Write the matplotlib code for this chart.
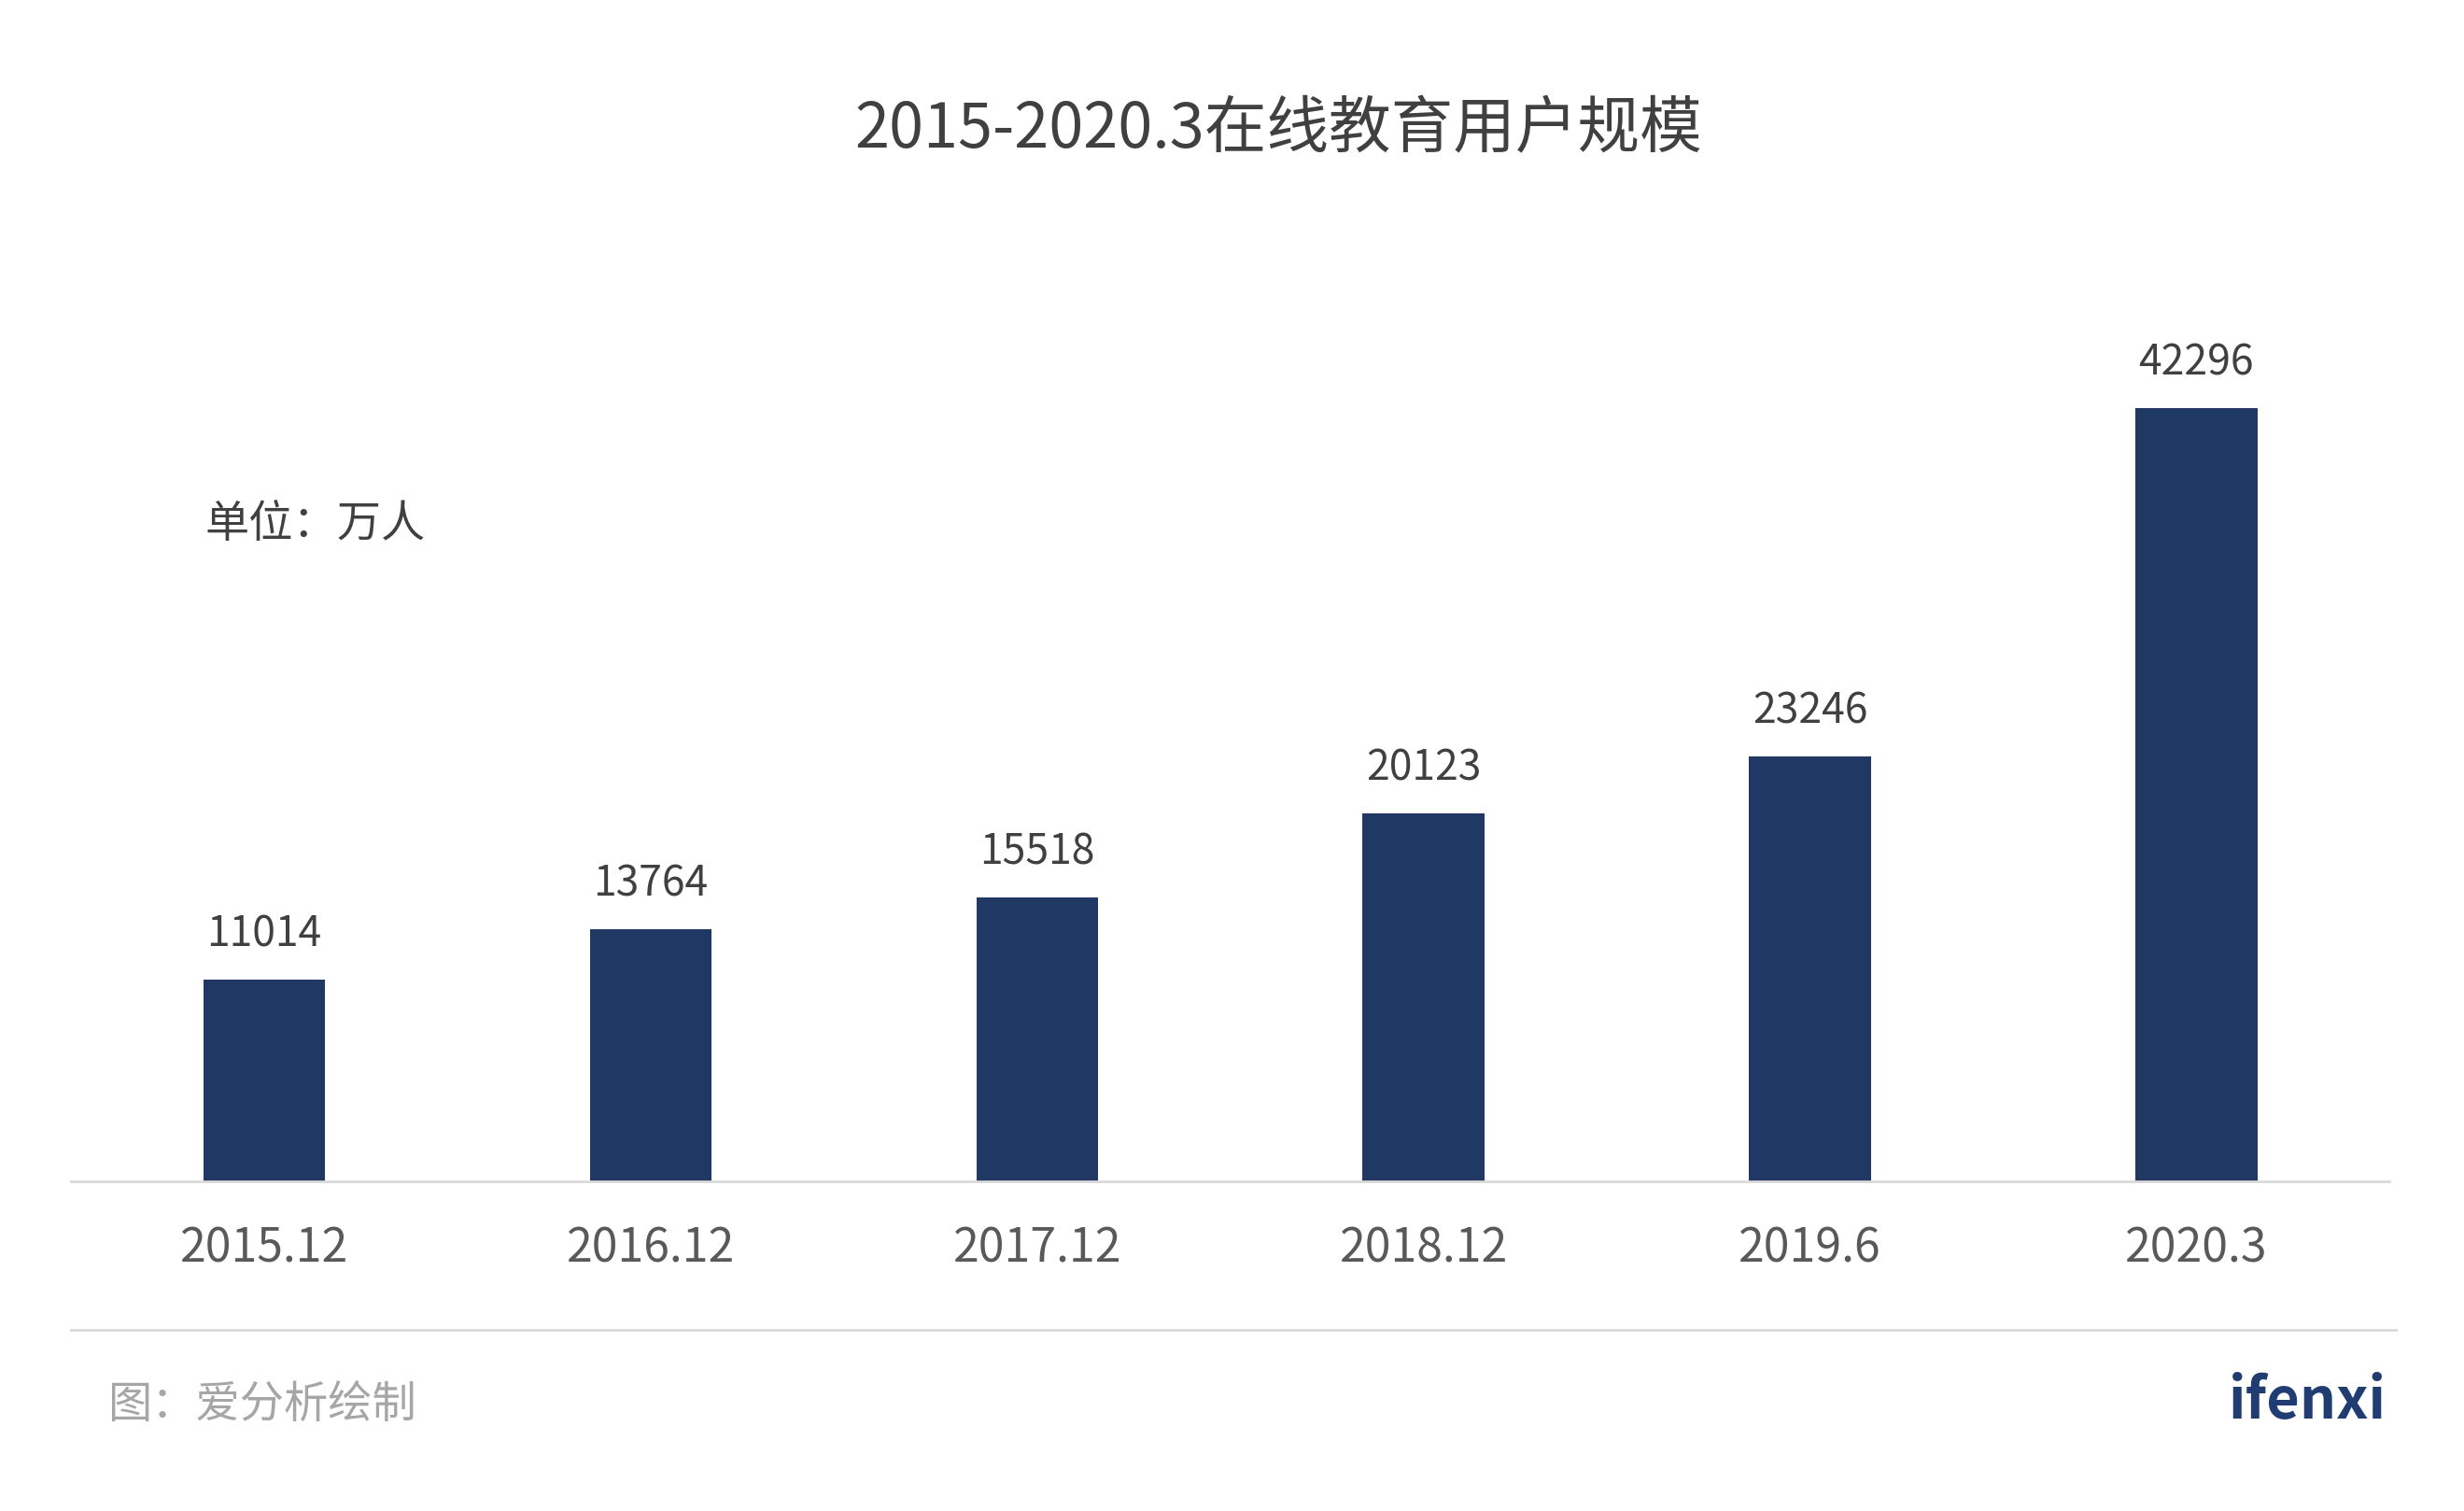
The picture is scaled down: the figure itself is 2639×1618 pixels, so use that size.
import matplotlib
matplotlib.use("Agg")
import matplotlib.pyplot as plt

plt.rcParams['font.family'] = ['Noto Sans CJK SC', 'DejaVu Sans']

categories = ["2015.12", "2016.12", "2017.12", "2018.12", "2019.6", "2020.3"]
values = [11014, 13764, 15518, 20123, 23246, 42296]

fig = plt.figure(figsize=(26.39, 16.18), dpi=100)
ax = fig.add_axes([0.0288, 0.2184, 0.941, 0.605])
x = range(len(categories))
ax.bar(x, values, width=0.315, color="#203864")
for i, v in zip(x, values):
    ax.text(i, v + 1300, str(v), ha="center", va="bottom", fontsize=32, color="#404040")
ax.set_xlim(-0.5, len(categories) - 0.5)
ax.set_ylim(0, 50000)
ax.set_yticks([])
ax.set_xticks(list(x))
ax.set_xticklabels(categories, fontsize=36, color="#595959")
ax.tick_params(axis="x", length=0, pad=34)
for s in ["top", "right", "left"]:
    ax.spines[s].set_visible(False)
ax.spines["bottom"].set_color("#d9d9d9")
ax.spines["bottom"].set_linewidth(2)

fig.text(0.519, 0.914, "2015-2020.3在线教育用户规模", ha="center", va="center",
         fontsize=48, color="#404040", fontweight="medium")
fig.text(0.083, 0.653, "单位：万人", ha="left", va="center", fontsize=34, color="#404040")
fig.add_artist(plt.Line2D([0.0288, 0.9725], [0.120, 0.120], color="#d9d9d9", lw=2))
fig.text(0.0435, 0.070, "图：爱分析绘制", ha="left", va="center", fontsize=34, color="#a6a6a6")
fig.text(0.9685, 0.072, "ifenxi", ha="right", va="center", fontsize=44,
         color="#1f3c73", fontweight="bold")
fig.savefig("out.png", dpi=100, facecolor="white")
